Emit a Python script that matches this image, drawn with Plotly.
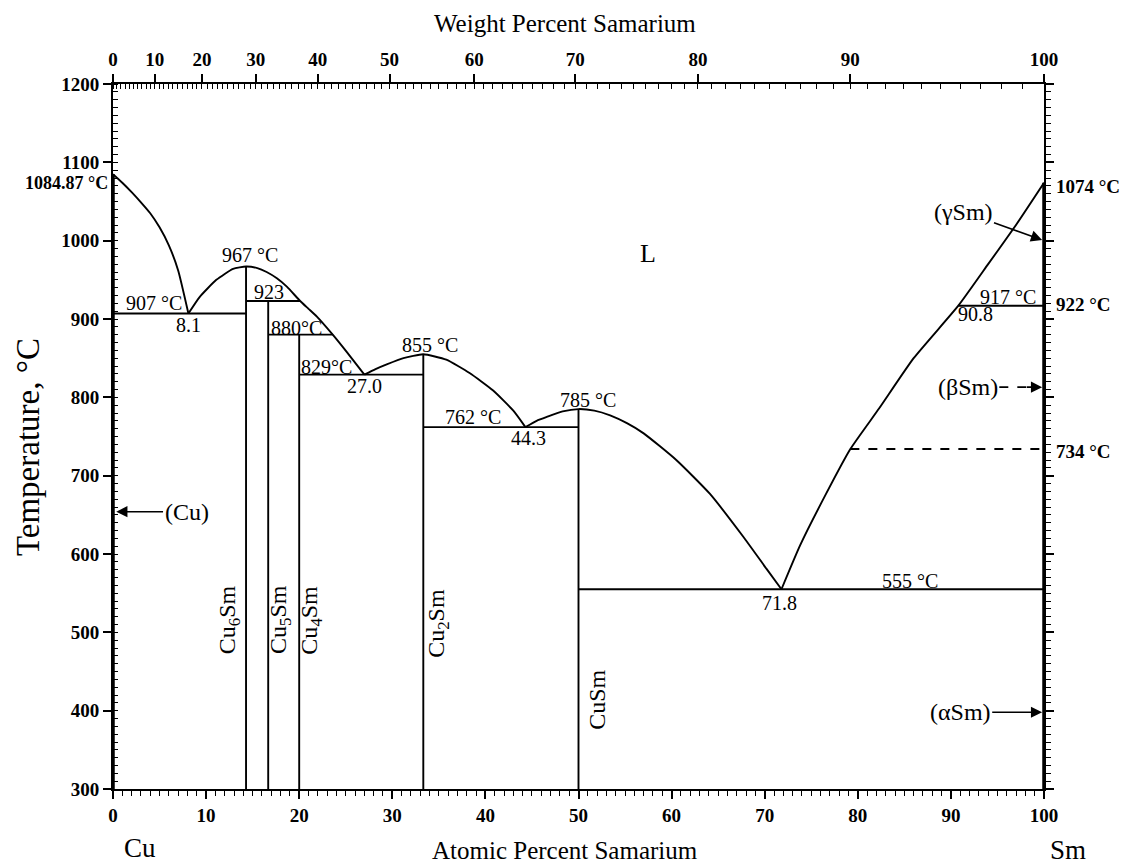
import plotly.graph_objects as go

# ---------------- data ----------------
M_CU = 63.546
M_SM = 150.36

# liquidus segments (at.% Sm, °C)
liq_cu_x = [0, 1, 2, 3, 4, 5, 6, 7, 8.1]
liq_cu_t = [1084.87, 1074, 1062, 1049, 1035, 1017, 994, 962, 907]
liq_cu6_x = [8.1, 9.3, 11.1, 12.9, 14.29, 15.5, 16.5, 17.6, 18.7, 20.1, 21.0, 21.9, 23.6, 25.1, 27.0]
liq_cu6_t = [907, 928, 950, 964, 967, 965, 960, 952, 941, 923, 913, 903, 880, 858, 829]
liq_cu2_x = [27.0, 28.2, 29.4, 31.2, 33.33, 35.8, 38.3, 40.8, 43.0, 44.3]
liq_cu2_t = [829, 836, 842, 850, 855, 848, 831, 809, 783, 762]
liq_cusm_x = [44.3, 45.5, 46.6, 48.3, 50.0, 51.7, 53.4, 55.2, 57.0, 60.5, 64.1, 67.7, 70.2, 71.8]
liq_cusm_t = [762, 770, 775, 782, 785, 783, 777, 767, 754, 720, 677, 622, 581, 555]
liq_sm_x = [71.8, 73.8, 76.6, 79.2, 82.3, 86.0, 90.8, 94.0, 97.1, 100]
liq_sm_t = [555, 611, 677, 734, 786, 850, 917, 970, 1022, 1074]

# compounds (vertical lines): composition, top temperature
comp_names = ["Cu<sub>6</sub>Sm", "Cu<sub>5</sub>Sm", "Cu<sub>4</sub>Sm", "Cu<sub>2</sub>Sm", "CuSm"]
comp_x = [14.29, 16.67, 20.0, 33.33, 50.0]
comp_top = [967, 923, 880, 855, 785]
comp_label_x = [12.4, 17.95, 21.25, 34.9, 52.0]
comp_label_t = [516, 516, 516, 512, 414]

# invariant isotherms: start, end, temperature
iso_x0 = [0, 14.29, 16.67, 20.0, 33.33, 50.0, 90.8]
iso_x1 = [14.29, 20.1, 23.6, 33.33, 50.0, 100, 100]
iso_t = [907, 923, 880, 829, 762, 555, 917]

# dashed (βSm)/(αSm) transition
dash_x = [79.2, 100]
dash_t = [734, 734]

# pure-element melting points
t_min = 300
cu_melt = 1084.87
sm_melt = 1074

# in-plot labels
lab_text = ["907 °C", "8.1", "967 °C", "923", "880°C", "829°C", "27.0", "855 °C",
            "762 °C", "44.3", "785 °C", "555 °C", "71.8", "917 °C", "90.8"]
lab_x = [4.35, 8.1, 14.7, 16.75, 19.7, 22.95, 27.05, 34.05,
         38.7, 44.6, 51.0, 85.6, 71.6, 96.1, 92.6]
lab_t = [920, 892, 982, 935, 888, 839, 814, 867,
         775, 748, 797, 565, 537, 928, 907]

# weight-percent top axis
wt_major = [0, 10, 20, 30, 40, 50, 60, 70, 80, 90, 100]
wt_minor = list(range(0, 101))

# axis ticks
temp_ticks = [300, 400, 500, 600, 700, 800, 900, 1000, 1100, 1200]
at_ticks = [0, 10, 20, 30, 40, 50, 60, 70, 80, 90, 100]


def wt_to_at(w):
    if w >= 100:
        return 100.0
    a = w / M_SM
    b = (100 - w) / M_CU
    return 100 * a / (a + b)


SERIF = "Liberation Serif"
LW = 1.9

fig = go.Figure()


def add_line(x, y, width=LW, dash=None, shape="spline"):
    fig.add_trace(go.Scatter(x=x, y=y, mode="lines",
                             line=dict(color="black", width=width, dash=dash,
                                       shape=shape, smoothing=0.5),
                             hoverinfo="skip", showlegend=False, cliponaxis=False))


for xs, ts in [(liq_cu_x, liq_cu_t), (liq_cu6_x, liq_cu6_t), (liq_cu2_x, liq_cu2_t),
               (liq_cusm_x, liq_cusm_t), (liq_sm_x, liq_sm_t)]:
    add_line(xs, ts)

for cx, ct in zip(comp_x, comp_top):
    add_line([cx, cx], [ct, t_min], shape="linear")

for x0, x1, t in zip(iso_x0, iso_x1, iso_t):
    add_line([x0, x1], [t, t], shape="linear")

add_line(dash_x, dash_t, dash="dash", shape="linear")

# terminal solid solutions along axes
add_line([0, 0], [t_min, cu_melt], width=3.5, shape="linear")
add_line([100, 100], [t_min, sm_melt], width=3.5, shape="linear")

# dummy trace for secondary axes
fig.add_trace(go.Scatter(x=[0, 100], y=[300, 1200], xaxis="x2", yaxis="y2",
                         mode="markers", marker=dict(opacity=0),
                         hoverinfo="skip", showlegend=False))

ann = []
lab_font = dict(family=SERIF, size=20, color="black")
for t, x, y in zip(lab_text, lab_x, lab_t):
    ann.append(dict(x=x, y=y, text=t, showarrow=False, font=lab_font))
ann.append(dict(x=57.5, y=984, text="L", showarrow=False,
                font=dict(family=SERIF, size=26, color="black")))

for name, x, y in zip(comp_names, comp_label_x, comp_label_t):
    ann.append(dict(x=x, y=y, text=name, showarrow=False, textangle=-90,
                    font=dict(family=SERIF, size=24, color="black")))

# bold temperature labels on the sides
side_bold = dict(family=SERIF, size=19, color="black", weight="bold")
ann.append(dict(x=-0.003, xref="paper", y=1073, text="1084.87 °C", showarrow=False,
                xanchor="right", yanchor="middle",
                font=dict(family=SERIF, size=18, color="black", weight="bold")))
ann.append(dict(x=1.011, xref="paper", y=1069, text="1074 °C", showarrow=False,
                xanchor="left", yanchor="middle", font=side_bold))
ann.append(dict(x=1.011, xref="paper", y=919, text="922 °C", showarrow=False,
                xanchor="left", yanchor="middle", font=side_bold))
ann.append(dict(x=1.011, xref="paper", y=731, text="734 °C", showarrow=False,
                xanchor="left", yanchor="middle", font=side_bold))

# phase arrows
arrow_font = dict(family=SERIF, size=24, color="black")
arr = dict(showarrow=True, arrowhead=2, arrowsize=1.4, arrowwidth=1.6,
           arrowcolor="black", axref="x", ayref="y", standoff=0)
ann.append(dict(x=0.35, y=654, ax=7.9, ay=654, text="(Cu)", font=arrow_font, **arr))
ann.append(dict(x=99.8, y=1001, ax=91.3, ay=1037, text="(γSm)", font=arrow_font, **arr))
ann.append(dict(x=99.8, y=398, ax=91.0, ay=398, text="(αSm)", font=arrow_font, **arr))
ann.append(dict(x=91.8, y=813, text="(βSm)", showarrow=False, font=arrow_font))
ann.append(dict(x=99.8, y=813, ax=98.0, ay=813, text="", **arr))

# titles (paper coordinates, explicitly centred)
title_font = dict(family=SERIF, size=25, color="black")
ctr = dict(xref="paper", yref="paper", showarrow=False, xanchor="center", yanchor="middle")
ann.append(dict(x=0.4855, y=1.086, text="Weight Percent Samarium", font=title_font, **ctr))
ann.append(dict(x=0.4855, y=-0.087, text="Atomic Percent Samarium", font=title_font, **ctr))
ann.append(dict(x=0.029, y=-0.084, text="Cu",
                font=dict(family=SERIF, size=27, color="black"), **ctr))
ann.append(dict(x=1.0258, y=-0.087, text="Sm",
                font=dict(family=SERIF, size=27, color="black"), **ctr))
ann.append(dict(x=-0.0913, y=0.485, text="Temperature, °C", textangle=-90,
                font=dict(family=SERIF, size=33, color="black"), **ctr))

shapes = [dict(type="line", x0=95.2, x1=98.3, y0=813, y1=813, xref="x", yref="y",
               line=dict(color="black", width=1.6, dash="dash"))]

tick_font = dict(family=SERIF, size=19, color="black", weight="bold")

# page body has an 8px margin: shift margins so the plot area lands where intended
fig.update_layout(
    width=1123, height=859,
    margin=dict(l=105, r=87, t=76, b=78),
    paper_bgcolor="white", plot_bgcolor="white",
    annotations=ann, shapes=shapes,
    xaxis=dict(range=[0, 100], tickmode="array", tickvals=at_ticks,
               ticks="outside", ticklen=8, tickwidth=1.6, tickcolor="black",
               showline=True, linecolor="black", linewidth=2, showgrid=False,
               zeroline=False, tickfont=tick_font,
               minor=dict(dtick=1, tick0=0, ticks="outside", ticklen=5,
                          tickwidth=1.2, tickcolor="black", showgrid=False)),
    xaxis2=dict(range=[0, 100], overlaying="x", side="top", anchor="y",
                tickmode="array", tickvals=[wt_to_at(w) for w in wt_major],
                ticktext=[str(w) for w in wt_major],
                ticks="outside", ticklen=8, tickwidth=1.6, tickcolor="black",
                showline=True, linecolor="black", linewidth=2, showgrid=False,
                zeroline=False, tickfont=tick_font,
                minor=dict(tickmode="array", tickvals=[wt_to_at(w) for w in wt_minor],
                           ticks="inside", ticklen=5, tickwidth=1.2, tickcolor="black",
                           showgrid=False)),
    yaxis=dict(range=[300, 1200], tickmode="array", tickvals=temp_ticks,
               ticks="outside", ticklen=8, tickwidth=1.6, tickcolor="black",
               showline=True, linecolor="black", linewidth=2, showgrid=False,
               zeroline=False, tickfont=tick_font,
               minor=dict(dtick=10, tick0=0, ticks="inside", ticklen=5,
                          tickwidth=1.2, tickcolor="black", showgrid=False)),
    yaxis2=dict(range=[300, 1200], overlaying="y", side="right", anchor="x",
                tickmode="array", tickvals=temp_ticks, showticklabels=False,
                ticks="outside", ticklen=8, tickwidth=1.6, tickcolor="black",
                showline=True, linecolor="black", linewidth=2, showgrid=False,
                zeroline=False,
                minor=dict(dtick=10, tick0=0, ticks="outside", ticklen=5,
                           tickwidth=1.2, tickcolor="black", showgrid=False)),
)

fig.write_html("out.html")
